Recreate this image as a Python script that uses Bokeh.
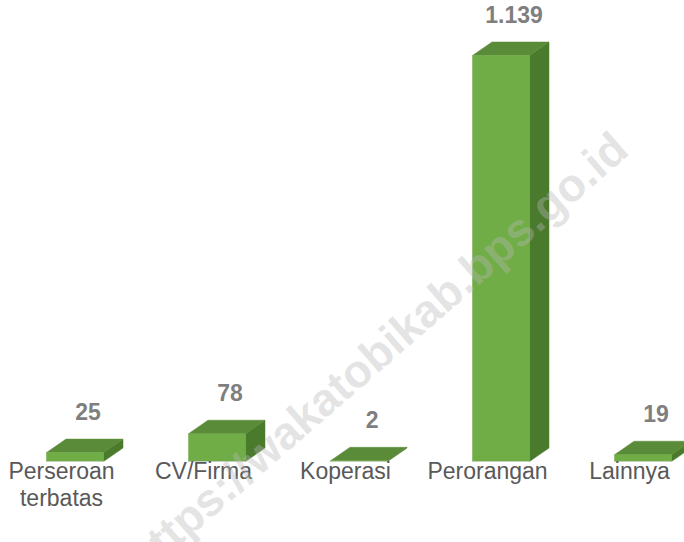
from bokeh.plotting import figure
from bokeh.models import ColumnDataSource, Range1d
from bokeh.embed import file_html
from bokeh.resources import INLINE
from bokeh.core.properties import value

# ---- data ----
categories = ["Perseroan\nterbatas", "CV/Firma", "Koperasi", "Perorangan", "Lainnya"]
counts = [25, 78, 2, 1139, 19]
count_labels = ["25", "78", "2", "1.139", "19"]
WATERMARK = "https://wakatobikab.bps.go.id"

# ---- geometry (data units) ----
HW = 0.2007      # half width of front face (category slot = 1)
DX = 0.1373      # depth offset in x
DY = 37.9        # depth offset in value units
FRONT = "#70ad47"
TOP = "#5a8b39"
SIDE = "#4a7a2c"

W, H = 684, 542
p = figure(width=W, height=H, x_range=Range1d(-0.02465, 4.79225),
           y_range=Range1d(-227.2, 1293.3), output_backend="svg",
           toolbar_location=None, x_axis_type=None, y_axis_type=None,
           min_border=0, outline_line_color=None)
p.grid.visible = False
p.background_fill_color = "white"
p.border_fill_color = "white"

xc = [i + 0.5 for i in range(len(categories))]

front_xs, front_ys, top_xs, top_ys, side_xs, side_ys = [], [], [], [], [], []
for x, v in zip(xc, counts):
    front_xs.append([x - HW, x + HW, x + HW, x - HW])
    front_ys.append([0, 0, v, v])
    top_xs.append([x - HW, x + HW, x + HW + DX, x - HW + DX])
    top_ys.append([v, v, v + DY, v + DY])
    side_xs.append([x + HW, x + HW + DX, x + HW + DX, x + HW])
    side_ys.append([0, DY, v + DY, v])

p.patches(side_xs, side_ys, fill_color=SIDE, line_color=SIDE, line_width=0.5)
p.patches(top_xs, top_ys, fill_color=TOP, line_color=TOP, line_width=0.5)
p.patches(front_xs, front_ys, fill_color=FRONT, line_color=FRONT, line_width=0.5)
p.segment(x0=[x - HW for x in xc], y0=[0] * len(xc), x1=[x + HW for x in xc],
          y1=[0] * len(xc), line_color="#c5cfbe", line_width=1)

# value labels
vsrc = ColumnDataSource(dict(x=[x + 0.092 for x in xc],
                             y=[v + DY + 78.5 for v in counts],
                             t=count_labels))
p.text(x="x", y="y", text="t", source=vsrc, text_font=value("Liberation Sans"),
       text_font_style="bold", text_font_size="23px", text_color="#7f7f7f",
       text_align="center", text_baseline="alphabetic")

# category labels (one text row per line)
lines = [c.split("\n") for c in categories]
n_lines = max(len(l) for l in lines)
for k in range(n_lines):
    xs = [x - 0.095 for x, l in zip(xc, lines) if len(l) > k]
    ts = [l[k] for l in lines if len(l) > k]
    ys = [-27.0 - k * 75.7] * len(ts)
    p.text(x=xs, y=ys, text=ts, text_font=value("Liberation Sans"),
           text_font_size="23px", text_color="#595959", text_align="center",
           text_baseline="alphabetic")

# watermark
p.text(x=[4.342], y=[899.0], text=[WATERMARK], angle=41, angle_units="deg",
       text_font=value("Liberation Sans"), text_font_style="bold",
       text_font_size="46px", text_color="#b8b8b8", text_alpha=0.38,
       text_align="right", text_baseline="alphabetic")

open("out.html", "w").write(file_html(p, INLINE))
